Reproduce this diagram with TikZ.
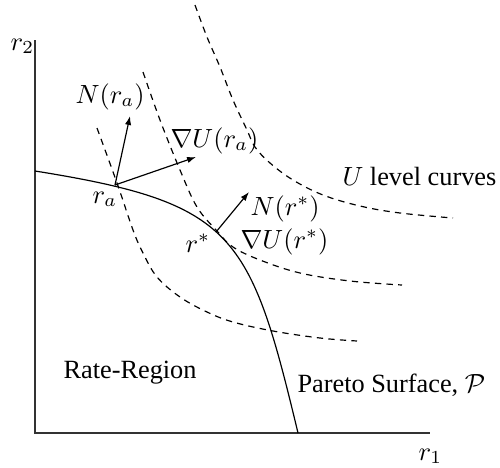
\documentclass[tikz,border=0pt]{standalone}
\usepackage{fontspec}
\setmainfont{Liberation Serif}
\usetikzlibrary{arrows.meta}
\tikzset{
  axisline/.style={line width=0.6pt, black!80},
  pareto/.style={line width=0.45pt},
  level/.style={line width=0.45pt, dash pattern=on 2.4pt off 2pt},
  vec/.style={line width=0.45pt, -{Latex[length=3.4pt,width=2.4pt]}},
  lbl/.style={anchor=base west, inner sep=0pt, font=\fontsize{10}{12}\selectfont}
}
\begin{document}
\begin{tikzpicture}[x=0.38pt, y=-0.38pt]
\useasboundingbox (0,0) rectangle (500,467);
% axes
\coordinate (ytop) at (35,40);
\coordinate (orig) at (35,433);
\coordinate (xend) at (430,433);
\draw[axisline] (ytop) -- (orig) -- (xend);
% Pareto surface
\coordinate (pstart) at (35,171);
\coordinate (pend) at (298,433);
\draw[pareto] (pstart) .. controls (235,203) and (250,233) .. (pend);
\coordinate (ra) at (115,185);
\coordinate (rs) at (216,232);
% level curves
\draw[level] plot[smooth, tension=0.6] coordinates {(97,128) (117,183) (133,230) (143,253) (157,277) (180,297) (207,312) (233,322) (273,331) (320,338) (357,341)};
\draw[level] plot[smooth, tension=0.6] coordinates {(143,72) (160,120) (180,170) (197,207) (217,231) (233,247) (260,260) (300,273) (350,281) (402,285)};
\draw[level] plot[smooth, tension=0.6] coordinates {(195,5) (207,37) (220,67) (233,100) (247,130) (255,147) (270,163) (293,180) (323,195) (360,206) (400,213) (453,218)};
% vectors
\coordinate (nra) at (130,116);
\coordinate (gra) at (196,157);
\coordinate (nrs) at (249,192);
\draw[vec] (ra) -- (nra);
\draw[vec] (ra) -- (gra);
\draw[vec] (rs) -- (nrs);
% labels
\node[lbl] (lr2) at (10,50) {$r_2$};
\node[lbl] (lr1) at (418,460) {$r_1$};
\node[lbl] (lnra) at (75,103) {$N(r_a)$};
\node[lbl] (lgra) at (170,147) {$\nabla U(r_a)$};
\node[lbl] (lra) at (92,203) {$r_a$};
\node[lbl] (lrs) at (185,252) {$r^*$};
\node[lbl] (lnrs) at (250,215) {$N(r^*)$};
\node[lbl] (lgrs) at (240,248) {$\nabla U(r^*)$};
\node[lbl] (lU) at (342,185) {$U$ level curves};
\node[lbl] (lrate) at (63,378) {Rate-Region};
\node[lbl] (lpar) at (297,392) {Pareto Surface, $\mathcal{P}$};
\end{tikzpicture}
\end{document}
